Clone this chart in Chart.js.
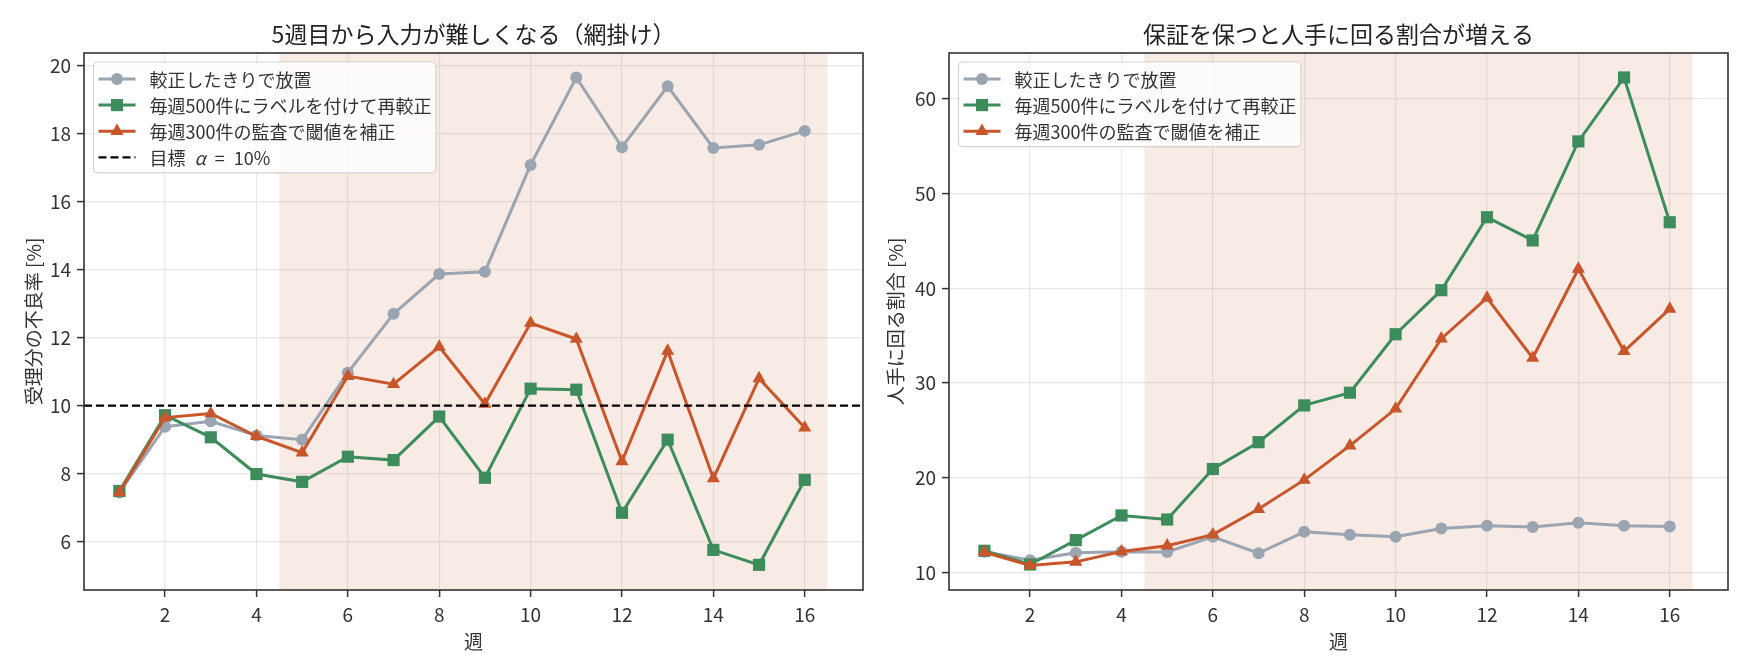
<!DOCTYPE html>
<html><head><meta charset="utf-8">
<script src="https://cdn.jsdelivr.net/npm/chart.js@4.4.1/dist/chart.umd.min.js"></script>
<style>
html,body{margin:0;padding:0;background:#fff;}
#wrap{position:relative;width:1750px;height:672px;overflow:hidden;}
canvas{position:absolute;top:0;}
</style></head>
<body>
<div id="wrap">
<canvas id="c1" width="875" height="672" style="left:0;width:875px;height:672px"></canvas>
<canvas id="c2" width="875" height="672" style="left:875px;width:875px;height:672px"></canvas>
</div>
<script>
// ---- data ----
const weeks = [1,2,3,4,5,6,7,8,9,10,11,12,13,14,15,16];
const seriesNames = ['較正したきりで放置','毎週500件にラベルを付けて再較正','毎週300件の監査で閾値を補正'];
const targetLabel = '目標 α = 10%';
const targetValue = [10];
const shadeRange = [4.5, 16.5];

// 受理分の不良率 [%]
const defectLeftAlone = [7.45, 9.38, 9.54, 9.12, 9.0, 10.97, 12.7, 13.87, 13.94, 17.08, 19.65, 17.6, 19.39, 17.58, 17.67, 18.08];
const defectRelabel   = [7.49, 9.72, 9.07, 7.99, 7.76, 8.5, 8.4, 9.68, 7.88, 10.5, 10.47, 6.85, 9.0, 5.76, 5.32, 7.82];
const defectAudit     = [7.45, 9.65, 9.77, 9.1, 8.62, 10.87, 10.63, 11.73, 10.05, 12.43, 11.96, 8.36, 11.61, 7.86, 10.8, 9.35];

// 人手に回る割合 [%]
const humanLeftAlone = [12.2, 11.3, 12.1, 12.2, 12.18, 13.77, 12.04, 14.3, 13.98, 13.77, 14.65, 14.93, 14.82, 15.25, 14.93, 14.86];
const humanRelabel   = [12.3, 10.85, 13.42, 16.03, 15.6, 20.93, 23.76, 27.64, 28.98, 35.15, 39.8, 47.5, 45.05, 55.5, 62.25, 46.97];
const humanAudit     = [12.15, 10.75, 11.13, 12.22, 12.84, 14.0, 16.7, 19.78, 23.4, 27.28, 34.68, 38.98, 32.64, 42.04, 33.35, 37.82];

const xTicks = [2,4,6,8,10,12,14,16];
const leftYTicks = [6,8,10,12,14,16,18,20];
const rightYTicks = [10,20,30,40,50,60];

const titles = ['5週目から入力が難しくなる（網掛け）','保証を保つと人手に回る割合が増える'];
const xLabel = '週';
const yLabels = ['受理分の不良率 [%]','人手に回る割合 [%]'];

// ---- style ----
const FONT = "'Noto Sans CJK JP','Noto Sans',sans-serif";
const colors = ['#9aa5b1','#3c8c5c','#c9552a'];
const pointStyles = ['circle','rect','triangle'];
const pointRadii = [6, 8.6, 7.6];
const LW = 3;
Chart.defaults.font.family = FONT;
Chart.defaults.color = '#333';

function mkDatasets(arrs){
  return arrs.map((a,i)=>({
    label: seriesNames[i],
    data: weeks.map((w,j)=>({x:w,y:a[j]})),
    borderColor: colors[i],
    backgroundColor: colors[i],
    pointBackgroundColor: colors[i],
    pointBorderColor: colors[i],
    pointBorderWidth: 0,
    pointStyle: pointStyles[i],
    pointRadius: pointRadii[i],
    borderWidth: LW,
    tension: 0,
    order: 3-i
  }));
}

function drawMarker(ctx, style, x, y, r, color){
  ctx.save();
  ctx.fillStyle = color;
  ctx.beginPath();
  if(style==='circle'){ ctx.arc(x,y,r,0,Math.PI*2); }
  else if(style==='rect'){ const s=Math.SQRT1_2*r; ctx.rect(x-s,y-s,2*s,2*s); }
  else { ctx.moveTo(x, y-r); ctx.lineTo(x+r*Math.sin(2*Math.PI/3), y - r*Math.cos(2*Math.PI/3)); ctx.lineTo(x+r*Math.sin(4*Math.PI/3), y - r*Math.cos(4*Math.PI/3)); ctx.closePath(); }
  ctx.fill();
  ctx.restore();
}

function drawTargetLabel(ctx, text, x, y){
  // render α in italic like mathtext, with wider spacing around symbols
  const parts = text.split(' ');
  let cx = x;
  parts.forEach((p, k)=>{
    ctx.font = (p === 'α' ? 'italic ' : '') + "18px " + FONT;
    ctx.fillText(p, cx, y);
    cx += ctx.measureText(p).width + 9;
  });
}

const decorPlugin = {
  id: 'decor',
  beforeDatasetsDraw(chart){
    const {ctx, chartArea:a, scales:{x}} = chart;
    const x0 = x.getPixelForValue(shadeRange[0]), x1 = x.getPixelForValue(shadeRange[1]);
    ctx.save();
    ctx.fillStyle = 'rgba(214,135,95,0.165)';
    ctx.fillRect(x0, a.top, x1-x0, a.bottom-a.top);
    ctx.restore();
  },
  afterDatasetsDraw(chart, args, opts){
    const {ctx, chartArea:a, scales:{y}} = chart;
    ctx.save();
    if(opts.target){
      const yy = y.getPixelForValue(targetValue[0]);
      ctx.beginPath();
      ctx.setLineDash([8,4]);
      ctx.strokeStyle = '#000';
      ctx.lineWidth = 2.2;
      ctx.moveTo(a.left, yy); ctx.lineTo(a.right, yy);
      ctx.stroke();
      ctx.setLineDash([]);
    }
    ctx.strokeStyle = '#333';
    ctx.lineWidth = 1.6;
    ctx.strokeRect(a.left, a.top, a.right-a.left, a.bottom-a.top);
    // legend
    const n = opts.target ? 4 : 3;
    const bx = a.left + 9.5, by = a.top + 9, bw = 342.5, rowH = 26.1;
    const bh = 17 + (n-1)*rowH + 15.5;
    ctx.beginPath();
    if(ctx.roundRect) ctx.roundRect(bx, by, bw, bh, 4); else ctx.rect(bx,by,bw,bh);
    ctx.fillStyle = 'rgba(255,255,255,0.82)';
    ctx.fill();
    ctx.strokeStyle = '#d4d4d4';
    ctx.lineWidth = 1.2;
    ctx.stroke();
    ctx.font = "18px " + FONT;
    ctx.textBaseline = 'middle';
    ctx.textAlign = 'left';
    for(let i=0;i<n;i++){
      const cy = by + 17 + i*rowH;
      const lx0 = bx + 5, lx1 = bx + 42;
      ctx.beginPath();
      if(i<3){
        ctx.strokeStyle = colors[i]; ctx.lineWidth = LW;
        ctx.moveTo(lx0, cy); ctx.lineTo(lx1, cy); ctx.stroke();
        drawMarker(ctx, pointStyles[i], (lx0+lx1)/2, cy, pointRadii[i], colors[i]);
        ctx.fillStyle = '#333';
        ctx.font = "18px " + FONT;
        ctx.fillText(seriesNames[i], bx + 56, cy + 1);
      } else {
        ctx.strokeStyle = '#000'; ctx.lineWidth = 2.2; ctx.setLineDash([8,4]);
        ctx.moveTo(lx0, cy); ctx.lineTo(lx1, cy); ctx.stroke(); ctx.setLineDash([]);
        ctx.fillStyle = '#333';
        drawTargetLabel(ctx, targetLabel, bx + 56, cy + 1);
      }
    }
    // title
    ctx.fillStyle = '#222';
    ctx.font = "23px " + FONT;
    ctx.textAlign = 'center';
    ctx.fillText(opts.title, (a.left+a.right)/2, 34);
    // x label
    ctx.font = "19px " + FONT;
    ctx.fillStyle = '#333';
    ctx.fillText(xLabel, (a.left+a.right)/2, 642);
    // y label
    ctx.save();
    ctx.translate(opts.ylabelX, (a.top+a.bottom)/2);
    ctx.rotate(-Math.PI/2);
    ctx.fillText(opts.ylabel, 0, 0);
    ctx.restore();
    ctx.restore();
  }
};

function mkChart(id, arrs, yMin, yMax, yTicks, yWidth, padRight, title, ylabel, ylabelX, target){
  return new Chart(document.getElementById(id), {
    type: 'line',
    data: { datasets: mkDatasets(arrs) },
    plugins: [decorPlugin],
    options: {
      responsive: false,
      animation: false,
      devicePixelRatio: 1,
      layout: { padding: { left: 0, right: padRight, top: 53, bottom: 0 } },
      plugins: {
        legend: { display: false },
        tooltip: { enabled: false },
        title: { display: false },
        decor: { title: title, ylabel: ylabel, ylabelX: ylabelX, target: target }
      },
      scales: {
        x: {
          type: 'linear', min: 0.225, max: 17.275,
          afterBuildTicks: s => { s.ticks = xTicks.map(v=>({value:v})); },
          afterFit: s => { s.height = 82; },
          grid: { color: '#e8e8e8', lineWidth: 1.2, tickColor: '#333', tickWidth: 1.5, tickLength: 7 },
          border: { display: false },
          ticks: { font: { size: 19 }, color: '#333', padding: 6, maxRotation: 0 }
        },
        y: {
          min: yMin, max: yMax,
          afterBuildTicks: s => { s.ticks = yTicks.map(v=>({value:v})); },
          afterFit: s => { s.width = yWidth; },
          grid: { color: '#e8e8e8', lineWidth: 1.2, tickColor: '#333', tickWidth: 1.5, tickLength: 7 },
          border: { display: false },
          ticks: { font: { size: 19 }, color: '#333', padding: 6 }
        }
      }
    }
  });
}

mkChart('c1', [defectLeftAlone, defectRelabel, defectAudit], 4.58, 20.37, leftYTicks, 84, 12, titles[0], yLabels[0], 33.5, true);
mkChart('c2', [humanLeftAlone, humanRelabel, humanAudit], 8.16, 64.83, rightYTicks, 74, 22, titles[1], yLabels[1], 21, false);
</script>
</body></html>
